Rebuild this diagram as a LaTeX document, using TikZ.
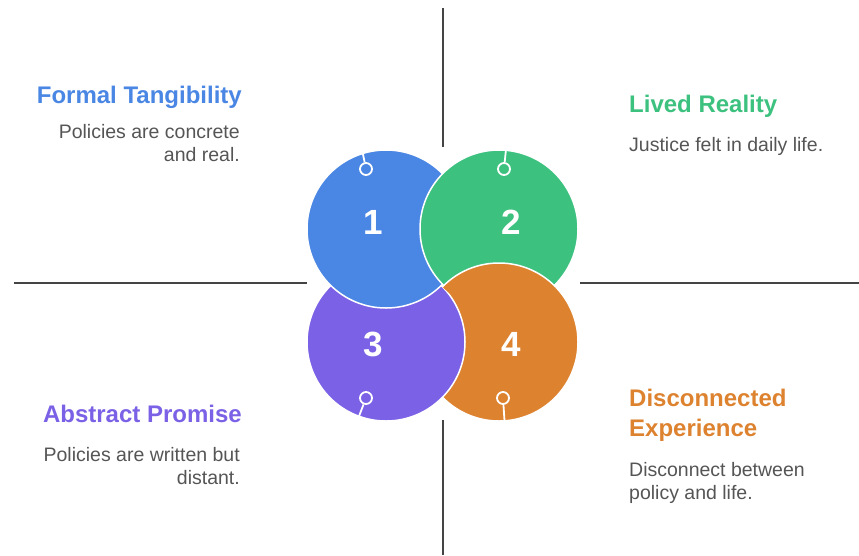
\documentclass[tikz,border=0pt]{standalone}
\usepackage{fontspec}
\setmainfont{Liberation Sans}
\definecolor{cblue}{HTML}{4A86E3}
\definecolor{cgreen}{HTML}{3DC17F}
\definecolor{cpurple}{HTML}{7B61E6}
\definecolor{corange}{HTML}{DD822F}
\definecolor{txtgray}{HTML}{555555}
\definecolor{linegray}{HTML}{444444}

\begin{document}
\begin{tikzpicture}[x=1pt,y=-1pt,
    bubble/.style={circle,draw=white,line width=1.5pt,minimum size=158pt,inner sep=0pt},
    pin/.style={circle,draw=white,line width=1.8pt,minimum size=12pt,inner sep=0pt},
    num/.style={text=white,font=\fontsize{35}{35}\selectfont\bfseries},
    title/.style={inner sep=0pt,font=\fontsize{24}{30}\selectfont\bfseries},
    desc/.style={inner sep=0pt,text=txtgray,font=\fontsize{19.5}{22.5}\selectfont},
    axis/.style={draw=linegray,line width=1.6pt}]

    \useasboundingbox (0,0) rectangle (859,555);

    \coordinate (lw) at (14,283);
    \coordinate (le) at (307,283);
    \coordinate (rw) at (580,283);
    \coordinate (re) at (859,283);
    \coordinate (tn) at (443,8);
    \coordinate (ts) at (443,147);
    \coordinate (bn) at (443,420);
    \coordinate (bs) at (443,555);

    \draw[axis] (lw) -- (le);
    \draw[axis] (rw) -- (re);
    \draw[axis] (tn) -- (ts);
    \draw[axis] (bn) -- (bs);

    \node[bubble,fill=corange] (c4) at (499,342) {};
    \node[bubble,fill=cpurple] (c3) at (386,342) {};
    \node[bubble,fill=cblue] (c1) at (386,229) {};
    \node[bubble,fill=cgreen] (c2) at (499,229) {};
    % orange lies over green
    \begin{scope}
        \clip (c2.center) circle[radius=81pt];
        \draw[fill=corange,draw=white,line width=1.5pt] (c4.center) circle[radius=79pt];
    \end{scope}

    \node[pin] (p1) at (366,169) {};
    \node[pin] (p2) at (504,169) {};
    \node[pin] (p3) at (366,398) {};
    \node[pin] (p4) at (503,398) {};
    \draw[white,line width=1.8pt] (p1) -- (c1.107);
    \draw[white,line width=1.8pt] (p2) -- (c2.85);
    \draw[white,line width=1.8pt] (p3) -- (c3.250);
    \draw[white,line width=1.8pt] (p4) -- (c4.274);

    \node[num] (n1) at (373,222) {1};
    \node[num] (n2) at (511,222) {2};
    \node[num] (n3) at (373,344) {3};
    \node[num] (n4) at (511,344) {4};

    \node[title,text=cblue,anchor=base east] (t1) at (242,103) {Formal Tangibility};
    \node[desc,anchor=base east,align=right] (d1) at (240,161) {Policies are concrete\\and real.};

    \node[title,text=cgreen,anchor=base west] (t2) at (629,112) {Lived Reality};
    \node[desc,anchor=base west,align=left] (d2) at (629,151) {Justice felt in daily life.};

    \node[title,text=cpurple,anchor=base east] (t3) at (242,422) {Abstract Promise};
    \node[desc,anchor=base east,align=right] (d3) at (240,484) {Policies are written but\\distant.};

    \node[title,text=corange,anchor=base west,align=left] (t4) at (629,436) {Disconnected\\Experience};
    \node[desc,anchor=base west,align=left] (d4) at (629,499) {Disconnect between\\policy and life.};

\end{tikzpicture}
\end{document}
